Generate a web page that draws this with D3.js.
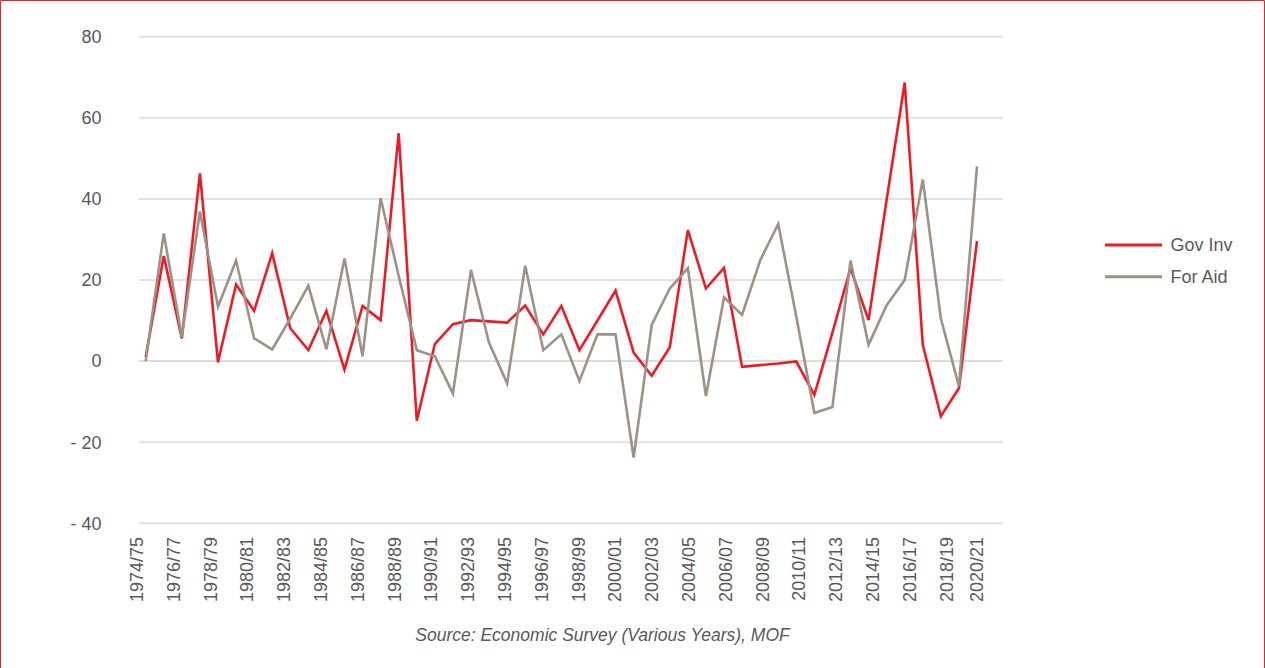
<!DOCTYPE html>
<html>
<head>
<meta charset="utf-8">
<script src="https://cdn.jsdelivr.net/npm/d3@7"></script>
<style>
  html, body { margin: 0; padding: 0; background: #fff; }
  svg { display: block; font-family: "Liberation Sans", Arial, Helvetica, sans-serif; }
</style>
</head>
<body>
<svg id="chart" width="1265" height="668"></svg>
<script>
const categories = [
  "1974/75","1975/76","1976/77","1977/78","1978/79","1979/80","1980/81","1981/82",
  "1982/83","1983/84","1984/85","1985/86","1986/87","1987/88","1988/89","1989/90",
  "1990/91","1991/92","1992/93","1993/94","1994/95","1995/96","1996/97","1997/98",
  "1998/99","1999/00","2000/01","2001/02","2002/03","2003/04","2004/05","2005/06",
  "2006/07","2007/08","2008/09","2009/10","2010/11","2011/12","2012/13","2013/14",
  "2014/15","2015/16","2016/17","2017/18","2018/19","2019/20","2020/21"
];
const govInv = [
  1, 25.9, 5.6, 46.3, -0.3, 18.9, 12.4, 26.6, 8.1, 2.7, 12.4, -2.1,
  13.6, 10.1, 56.2, -14.7, 4.2, 9.1, 10.1, 9.8, 9.5, 13.7, 6.6, 13.6,
  2.7, 10, 17.4, 2.1, -3.6, 3.4, 32.3, 17.9, 23.0, -1.4, -1.0, -0.6,
  -0.1, -8.3, 7, 22.9, 10.1, 39.8, 68.7, 4.0, -13.6, -6.7, 29.6
];
const forAid = [
  0, 31.5, 6.0, 36.9, 13.4, 24.8, 5.6, 2.9, 10.5, 18.6, 2.9, 25.3,
  1.2, 40.2, 21, 2.7, 1.2, -8, 22.5, 4.5, -5.5, 23.5, 2.7, 6.6,
  -4.9, 6.6, 6.6, -23.8, 8.9, 17.9, 22.9, -8.6, 15.7, 11.4, 24.8, 33.8,
  11, -12.8, -11.3, 24.8, 4.0, 13.8, 20, 44.8, 10.5, -6.2, 48
];
const xTickLabels = [
  "1974/75","1976/77","1978/79","1980/81","1982/83","1984/85","1986/87","1988/89",
  "1990/91","1992/93","1994/95","1996/97","1998/99","2000/01","2002/03","2004/05",
  "2006/07","2008/09","2010/11","2012/13","2014/15","2016/17","2018/19","2020/21"
];
const yTicks = [-40, -20, 0, 20, 40, 60, 80];
const seriesNames = ["Gov Inv", "For Aid"];
const sourceText = "Source: Economic Survey (Various Years), MOF";

const colors = { "Gov Inv": "#ed1c24", "For Aid": "#9e9185" };
const svg = d3.select("#chart");

// red frame
svg.append("path")
  .attr("d", "M0.5,668 L0.5,0.5 L1264.5,0.5 L1264.5,668")
  .attr("fill", "none").attr("stroke", "#e3262b").attr("stroke-width", 1);

const x = d3.scalePoint().domain(categories).range([145.7, 977]);
const xLab = d3.scalePoint().domain(xTickLabels).range([136.5, 983]);
const y = d3.scaleLinear().domain([-40, 80]).range([523.3, 36.7]);
const gridX0 = 139, gridX1 = 1003;

// gridlines
svg.append("g").selectAll("line").data(yTicks).join("line")
  .attr("x1", gridX0).attr("x2", gridX1)
  .attr("y1", d => y(d)).attr("y2", d => y(d))
  .attr("stroke", d => d === 0 ? "#dcdcdc" : "#e2e2e2")
  .attr("stroke-width", 2);

// y labels
svg.append("g").selectAll("text").data(yTicks).join("text")
  .attr("x", 101.5).attr("y", d => y(d))
  .attr("dy", "0.35em")
  .attr("text-anchor", "end")
  .attr("font-size", 18)
  .attr("fill", "#595959")
  .text(d => d < 0 ? "- " + Math.abs(d) : String(d));

// x labels
const lastIdx = xTickLabels.length - 1;
svg.append("g").selectAll("text").data(xTickLabels).join("text")
  .attr("transform", (d, i) => {
    let px = xLab(d);
    if (i === lastIdx) px = px - 6.5;
    return `translate(${px},537) rotate(-90)`;
  })
  .attr("dy", "0.36em")
  .attr("text-anchor", "end")
  .attr("font-size", 18)
  .attr("fill", "#595959")
  .text(d => d);

// lines
const line = d3.line()
  .x((d, i) => x(categories[i]))
  .y(d => y(d));

const series = [
  { name: "Gov Inv", values: govInv },
  { name: "For Aid", values: forAid }
];

svg.append("g").selectAll("path").data(series).join("path")
  .attr("d", d => line(d.values))
  .attr("fill", "none")
  .attr("stroke", d => colors[d.name])
  .attr("stroke-width", 2.6)
  .attr("stroke-linejoin", "miter");

// legend
const legend = svg.append("g");
seriesNames.forEach((name, i) => {
  const ly = 245 + i * 31.7;
  legend.append("line")
    .attr("x1", 1105).attr("x2", 1162)
    .attr("y1", ly).attr("y2", ly)
    .attr("stroke", colors[name]).attr("stroke-width", 3);
  legend.append("text")
    .attr("x", 1170.5).attr("y", ly)
    .attr("dy", "0.36em")
    .attr("font-size", 18)
    .attr("fill", "#595959")
    .text(name);
});

// source
svg.append("text")
  .attr("x", 602.5).attr("y", 641)
  .attr("text-anchor", "middle")
  .attr("font-size", 17.5)
  .attr("font-style", "italic")
  .attr("fill", "#595959")
  .text(sourceText);
</script>
</body>
</html>
